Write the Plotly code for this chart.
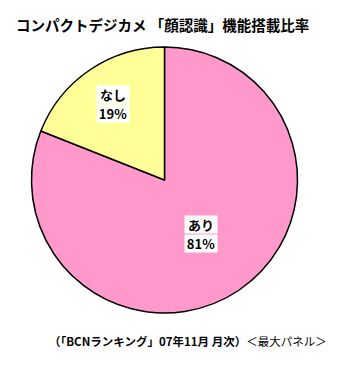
import math
import plotly.graph_objects as go

labels = ["あり", "なし"]
values = [81, 19]
colors = ["#FF99CC", "#FFFF99"]
label_radius = [0.49, 0.69]

title_text = "コンパクトデジカメ 「顔認識」機能搭載比率"
footer_bold = "（「BCNランキング」07年11月 月次）"
footer_normal = "＜最大パネル＞"

W, H = 352, 370
dom_x = [31 / W, 298 / W]
dom_y = [1 - 313 / H, 1 - 47 / H]

fig = go.Figure(go.Pie(
    labels=labels, values=values, sort=False, direction="clockwise", rotation=0,
    marker=dict(colors=colors, line=dict(color="black", width=1.5)),
    textinfo="none", hoverinfo="label+percent", showlegend=False,
    domain=dict(x=dom_x, y=dom_y),
))

cx = (dom_x[0] + dom_x[1]) / 2 * W
cy = (dom_y[0] + dom_y[1]) / 2 * H
R = (dom_x[1] - dom_x[0]) * W / 2
total = sum(values)
cum = 0
annotations = []
lab_font = dict(family="Noto Sans CJK JP", size=13, color="black")
for lab, v, rf in zip(labels, values, label_radius):
    mid = cum + v / 2
    cum += v
    ang = math.radians(90 - mid / total * 360)
    px = cx + rf * R * math.cos(ang)
    py = cy + rf * R * math.sin(ang)
    for line, anchor in ((lab, "bottom"), (f"{round(v / total * 100)}%", "top")):
        annotations.append(dict(
            x=px / W, y=py / H, xref="paper", yref="paper", showarrow=False,
            xanchor="center", yanchor=anchor, text=f"<b>{line}</b>",
            font=lab_font, bgcolor="white", borderpad=0, width=32, height=17,
            align="center",
        ))

annotations.append(dict(
    x=14 / W, y=1 - 24 / H, xref="paper", yref="paper", showarrow=False,
    xanchor="left", yanchor="middle", text=f"<b>{title_text}</b>",
    font=dict(family="Noto Sans CJK JP", size=14.5, color="black"),
))
annotations.append(dict(
    x=47 / W, y=1 - 341 / H, xref="paper", yref="paper", showarrow=False,
    xanchor="left", yanchor="middle",
    text=f"<b>{footer_bold}</b>{footer_normal}",
    font=dict(family="Noto Sans CJK JP", size=11.5, color="black"),
))

fig.update_layout(
    width=W, height=H, margin=dict(l=0, r=0, t=0, b=0),
    paper_bgcolor="white", plot_bgcolor="white",
    annotations=annotations,
)

fig.write_html("out.html")
